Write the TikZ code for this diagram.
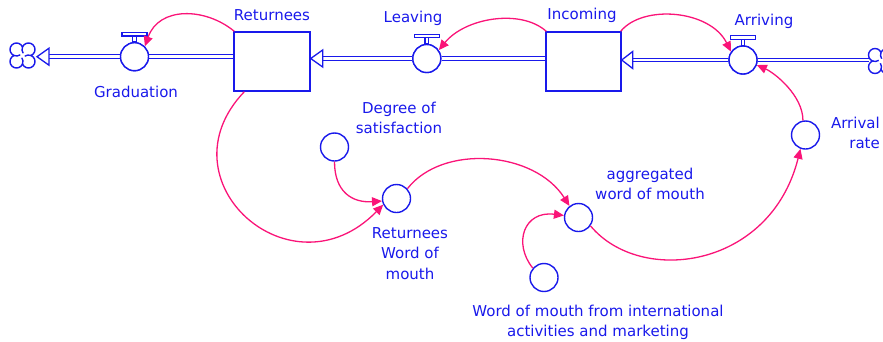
\documentclass[tikz,border=0pt]{standalone}
\usepackage{fontspec}
\setmainfont{DejaVu Sans}
\usetikzlibrary{arrows.meta}
\definecolor{sdblue}{RGB}{25,25,235}
\definecolor{sdpink}{RGB}{250,20,120}
\newcommand{\sdcloud}[1]{%
  \begin{scope}[shift={#1}]
    \fill[white] (0,0) circle[radius=12];
    \draw[cloudline] (0,8.5) arc[start angle=22.6,end angle=247.4,radius=6.5]
      arc[start angle=112.6,end angle=337.4,radius=6.5]
      arc[start angle=202.6,end angle=427.4,radius=6.5]
      arc[start angle=-67.4,end angle=157.4,radius=6.5];
    \draw[cloudline] (0,8.5) arc[start angle=157.4,end angle=215,radius=6.5];
    \draw[cloudline] (-8.5,0) arc[start angle=247.4,end angle=305,radius=6.5];
    \draw[cloudline] (0,-8.5) arc[start angle=337.4,end angle=395,radius=6.5];
    \draw[cloudline] (8.5,0) arc[start angle=427.4,end angle=485,radius=6.5];
  \end{scope}}
\begin{document}
\begin{tikzpicture}[x=1pt,y=1pt,
  lbl/.style={text=sdblue,font=\fontsize{15}{20.5}\selectfont,inner sep=0pt,align=center},
  aux/.style={circle,draw=sdblue,line width=1.4pt,minimum size=28pt,inner sep=0pt,fill=white},
  stock/.style={rectangle,draw=sdblue,line width=1.4pt,minimum height=59pt,inner sep=0pt,fill=white},
  pipe/.style={draw=sdblue,double=white,double distance=2.6pt,line width=1.1pt},
  link/.style={draw=sdpink,line width=1.3pt,-{Triangle[length=10pt,width=9pt]}},
  pipetip/.style={draw=sdblue,fill=white,line width=1.3pt,line join=miter},
  valvepart/.style={draw=sdblue,fill=white,line width=1.1pt},
  cloudline/.style={draw=sdblue,line width=1.4pt}
]
\useasboundingbox (0,0) rectangle (883,-341);
\clip (0,0) rectangle (883,-341);

% stocks
\node[stock,minimum width=76pt] (ret) at (272,-61.5) {};
\node[stock,minimum width=75pt] (inc) at (583.5,-61.5) {};

% flow valves
\node[aux] (gv) at (134.5,-56.7) {};
\node[aux] (lv) at (426.8,-58.5) {};
\node[aux] (av) at (743,-60) {};

% cloud positions
\coordinate (cl) at (22.5,-55.5);
\coordinate (cr) at (881,-61);
\coordinate (crw) at (868.5,-61);

% pipe arrow tip positions
\coordinate (tipG) at (37,-56.7);
\coordinate (tipR) at (ret.east |- lv);
\coordinate (tipI) at (inc.east |- av);

% pipes
\draw[pipe] ([xshift=12pt]tipG) -- (gv.west);
\draw[pipe] (gv.east) -- (ret.west |- gv);
\draw[pipe] ([xshift=12pt]tipR) -- (lv.west);
\draw[pipe] (lv.east) -- (inc.west |- lv);
\draw[pipe] ([xshift=11pt]tipI) -- (av.west);
\draw[pipe] (av.east) -- (crw |- av);

% clouds
\sdcloud{(cl)}
\sdcloud{(cr)}

% pipe arrowheads
\draw[pipetip] (tipG) -- ++(12,8.5) -- ++(0,-17) -- cycle;
\draw[pipetip] (tipR) -- ++(12,8.5) -- ++(0,-17) -- cycle;
\draw[pipetip] (tipI) -- ++(11,8.5) -- ++(0,-17) -- cycle;

% valve circles on top of pipes
\node[aux] at (gv) {};
\node[aux] at (lv) {};
\node[aux] at (av) {};

% valve handles
\foreach \v in {gv,lv,av}{
  \draw[valvepart] ([xshift=-1.8pt]\v.north) rectangle ([xshift=1.8pt,yshift=6pt]\v.north);
  \draw[valvepart] ([xshift=-12.5pt,yshift=6pt]\v.north) rectangle ([xshift=12.5pt,yshift=9.5pt]\v.north);
}

% auxiliaries
\node[aux] (ar) at (805.5,-135) {};
\node[aux] (ds) at (334.5,-147) {};
\node[aux] (rw) at (396.5,-198.5) {};
\node[aux] (ag) at (578.5,-217.5) {};
\node[aux] (wi) at (544,-277.5) {};

% labels
\node[lbl] (lG) at (136,-92) {Graduation};
\node[lbl] (lRet) at (272,-15.5) {Returnees};
\node[lbl] (lL) at (413,-18.5) {Leaving};
\node[lbl] (lI) at (582,-15.5) {Incoming};
\node[lbl] (lA) at (764,-21) {Arriving};
\node[lbl,align=right,anchor=east] (lAR) at (880,-133) {Arrival\\rate};
\node[lbl] (lDS) at (399,-118) {Degree of\\satisfaction};
\node[lbl] (lRW) at (410,-253.5) {Returnees\\Word of\\mouth};
\node[lbl] (lAG) at (650,-184) {aggregated\\word of mouth};
\node[lbl] (lWI) at (598,-322.5) {Word of mouth from international\\activities and marketing};

% causal links
\draw[link] ([xshift=1pt]ret.north west) .. controls +(-29,24) and +(14,40) .. (gv.45);
\draw[link] ([xshift=1pt]inc.north west) .. controls +(-26,23) and +(26,32) .. (lv.35);
\draw[link] ([xshift=-1pt]inc.north east) .. controls +(22,27) and +(-21,42) .. (av.145);
\draw[link] (ar.100) .. controls +(0,25) and +(18,-8) .. (av.-20);
\draw[link] ([xshift=11pt]ret.south west) .. controls +(-85,-89) and +(-92,-94) .. (rw.205);
\draw[link] (ds.south) .. controls +(0,-30) and +(-30,-2) .. (rw.190);
\draw[link] (rw.42) .. controls +(35,45) and +(-35,55) .. (ag.128);
\draw[link] (wi.140) .. controls +(-20,25) and +(-40,5) .. (ag.172);
\draw[link] (ag.-35) .. controls +(50,-60) and +(-30,-120) .. (ar.250);
\end{tikzpicture}
\end{document}
